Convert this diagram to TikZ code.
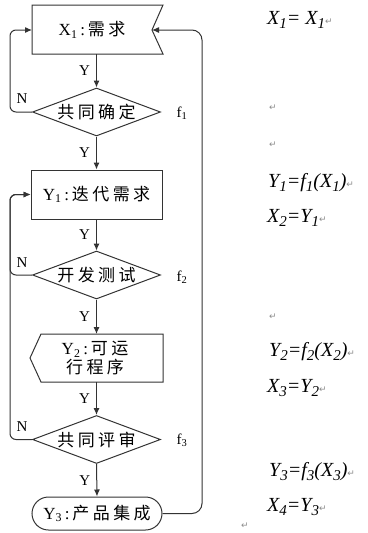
\documentclass[tikz,border=0pt]{standalone}
\usepackage{fontspec}
\setmainfont{Liberation Serif}
\newfontfamily\cjk[LetterSpace=20]{Noto Sans CJK SC}
\newfontfamily\symf{DejaVu Sans}
\usetikzlibrary{shapes.geometric,shapes.misc,arrows.meta}
\newcommand\zh[1]{{\cjk #1}}
\newcommand\sbs[1]{\raisebox{-0.2em}{\fontsize{15}{15}\selectfont #1}}
\newcommand\retmark{\textcolor{black!45}{\symf\fontsize{9}{9}\selectfont ↵}}
\tikzset{
  ln/.style={draw=black!80, line width=1pt},
  arr/.style={ln, -{Latex[length=7pt,width=6pt]}},
  intext/.style={font=\fontsize{17}{19}\selectfont, align=center, inner sep=0pt},
  dec/.style={diamond, ln, aspect=2.67, minimum width=128pt, minimum height=48pt, inner sep=0pt, intext},
  procbox/.style={rectangle, ln, minimum width=131pt, minimum height=49pt, inner sep=0pt, intext},
  term/.style={rounded rectangle, ln, minimum width=130pt, minimum height=33pt, inner sep=0pt, intext},
  lbl/.style={font=\fontsize{15}{15}\selectfont, inner sep=0pt},
  eq/.style={font=\fontsize{20}{20}\selectfont\itshape, anchor=west, inner sep=0pt},
  ret/.style={font=\symf\fontsize{9}{9}\selectfont, text=black!45, inner sep=0pt}
}
\begin{document}
\begin{tikzpicture}[x=1pt, y=-1pt]
\useasboundingbox (0,0) rectangle (367,533);
% box 1 (notched)
\draw[ln] (32,5) -- (163,5) -- (152,30) -- (163,54) -- (32,54) -- cycle;
\coordinate (b1s) at (96.5,54);
\coordinate (b1w) at (32,30);
\coordinate (b1e) at (152,30);
\node[intext] (b1) at (92,30) {X\textsubscript{1}\,:\,\zh{需求}};
% decision 1
\node[dec] (d1) at (96.5,112) {\zh{共同确定}};
% box 2
\node[procbox] (b2) at (96.5,194.5) {Y\textsubscript{1}\,:\,\zh{迭代需求}};
% decision 2
\node[dec] (d2) at (96.5,275) {\zh{开发测试}};
% box 3 (display-like)
\draw[ln] (41,334) -- (163,334) -- (163,382) -- (41,382) -- (30,358) -- cycle;
\coordinate (b3n) at (96.5,334);
\coordinate (b3s) at (96.5,382);
\node[intext] (b3) at (95,358) {Y\textsubscript{2}\,:\,\zh{可运}\\\zh{行程序}};
% decision 3
\node[dec] (d3) at (96.5,439.5) {\zh{共同评审}};
% terminal
\node[term] (t) at (97,513.5) {Y\textsubscript{3}\,:\,\zh{产品集成}};

% main flow
\draw[arr] (b1s) -- (d1.north) node[lbl, midway, left=6pt] (y1) {Y};
\draw[arr] (d1.south) -- (b2.north) node[lbl, midway, left=6pt] (y2) {Y};
\draw[arr] (b2.south) -- (d2.north) node[lbl, midway, left=6pt] (y3) {Y};
\draw[arr] (d2.south) -- (b3n) node[lbl, midway, left=6pt] (y4) {Y};
\draw[arr] (b3s) -- (d3.north) node[lbl, midway, left=6pt] (y5) {Y};
\draw[arr] (d3.south) -- (t.north) node[lbl, midway, left=6pt] (y6) {Y};

% N loops
\draw[arr, rounded corners=6pt] (d1.west) -- (10,112) |- (b1w);
\draw[arr, rounded corners=6pt] (d2.west) -- (10,275) |- (b2.west);
\draw[arr, rounded corners=6pt] (d3.west) -- (10,439.5) |- (b2.west);
\node[lbl] (n1) at (22,99) {N};
\node[lbl] (n2) at (22,263) {N};
\node[lbl] (n3) at (22,427) {N};

% return loop
\draw[arr, rounded corners=10pt] (t.east) -- (202,513.5) |- (b1e);

% f labels
\node[lbl] (f1) at (182,113) {f\textsubscript{1}};
\node[lbl] (f2) at (182,277) {f\textsubscript{2}};
\node[lbl] (f3) at (182,440) {f\textsubscript{3}};

% equations
\node[eq] (e1) at (267,20) {X\sbs{1}= X\sbs{1}\retmark};
\node[ret] (r1) at (273,108) {↵};
\node[ret] (r2) at (273,145) {↵};
\node[eq] (e2) at (268,183) {Y\sbs{1}=f\sbs{1}(X\sbs{1})\retmark};
\node[eq] (e3) at (267,218) {X\sbs{2}=Y\sbs{1}\retmark};
\node[ret] (r3) at (273,317) {↵};
\node[eq] (e4) at (269,352) {Y\sbs{2}=f\sbs{2}(X\sbs{2})\retmark};
\node[eq] (e5) at (267,388) {X\sbs{3}=Y\sbs{2}\retmark};
\node[eq] (e6) at (269,472) {Y\sbs{3}=f\sbs{3}(X\sbs{3})\retmark};
\node[eq] (e7) at (267,507) {X\sbs{4}=Y\sbs{3}\retmark};
\node[ret] (r4) at (245,526) {↵};
\end{tikzpicture}
\end{document}
